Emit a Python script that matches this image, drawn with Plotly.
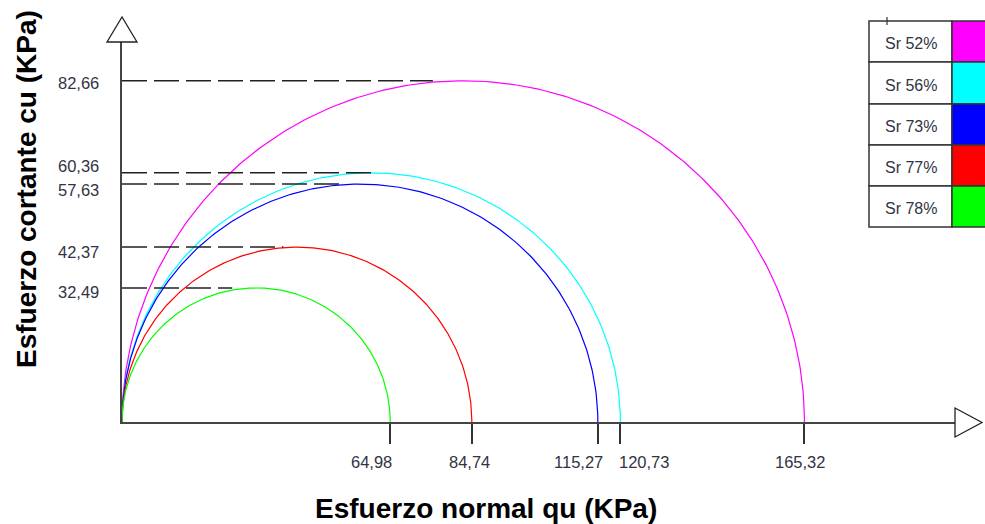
import numpy as np
import plotly.graph_objects as go

# Unconfined compression results (Mohr circles)
sr_labels = ["Sr 52%", "Sr 56%", "Sr 73%", "Sr 77%", "Sr 78%"]
qu_values = [165.32, 120.73, 115.27, 84.74, 64.98]   # normal stress qu (KPa)
cu_values = [82.66, 60.36, 57.63, 42.37, 32.49]      # shear strength cu (KPa)
leader_end = [75.3, 60.4, 53.6, 39.1, 26.7]          # where each cu guide line stops (KPa)
colors = ["#FF00FF", "#00FFFF", "#0000FF", "#FF0000", "#00FF00"]

# label nudges (pixels) so that close values stay readable
qu_label_shift = [-4, 24, -19, -2, -19]
cu_label_shift = [-2, 7, -6, -5, -4]

W, H = 985, 524
ML, MR, MT, MB = 122, 30, 42, 102
PW, PH = W - ML - MR, H - MT - MB
SCALE = 4.128  # pixels per KPa on both axes
FONT = "Liberation Sans, Arial"


def px(x):
    return (x - ML) / PW


def py(y):
    return (H - MB - y) / PH


def fmt(v):
    return f"{v:.2f}".replace(".", ",")


fig = go.Figure()

# Mohr semicircles
for qu, col in zip(qu_values, colors):
    r = qu / 2.0
    t = np.linspace(np.pi, 0, 241)
    fig.add_trace(go.Scatter(
        x=r + r * np.cos(t), y=r * np.sin(t), mode="lines",
        line=dict(color=col, width=1.2), hoverinfo="skip", showlegend=False,
    ))

# dashed guide lines from the shear axis to the top of each circle
for cu, xe in zip(cu_values, leader_end):
    fig.add_trace(go.Scatter(
        x=[0, xe], y=[cu, cu], mode="lines",
        line=dict(color="#222222", width=1.5, dash="25px,7px"),
        hoverinfo="skip", showlegend=False,
    ))

shapes = []
# arrow heads on both axes
shapes.append(dict(type="path", xref="paper", yref="paper",
                   path=f"M {px(107)} {py(42)} L {px(122)} {py(17)} L {px(137)} {py(42)} Z",
                   fillcolor="white", line=dict(color="#222222", width=1.3)))
shapes.append(dict(type="path", xref="paper", yref="paper",
                   path=f"M {px(955)} {py(408)} L {px(982)} {py(422.5)} L {px(955)} {py(437)} Z",
                   fillcolor="white", line=dict(color="#222222", width=1.3)))

annotations = []
tick_font = dict(family=FONT, size=16.5, color="#333344")

# value labels on the normal-stress axis
for qu, dx in zip(qu_values, qu_label_shift):
    annotations.append(dict(text=fmt(qu), xref="x", yref="paper", x=qu, y=py(462),
                            xshift=dx, showarrow=False, xanchor="center", yanchor="middle",
                            font=tick_font))
# value labels on the shear axis
for cu, dy in zip(cu_values, cu_label_shift):
    annotations.append(dict(text=fmt(cu), xref="paper", yref="y", x=px(101), y=cu,
                            yshift=dy, showarrow=False, xanchor="right", yanchor="middle",
                            font=tick_font))

# legend table
lx0, lx1, lx2 = 869, 952, 990
ly = [21, 62, 104, 145, 186, 227]
for i, (lab, col) in enumerate(zip(sr_labels, colors)):
    y0, y1 = ly[i], ly[i + 1]
    shapes.append(dict(type="rect", xref="paper", yref="paper",
                       x0=px(lx0), x1=px(lx1), y0=py(y1), y1=py(y0),
                       fillcolor="white", line=dict(color="#333333", width=1.5)))
    shapes.append(dict(type="rect", xref="paper", yref="paper",
                       x0=px(lx1), x1=px(lx2), y0=py(y1), y1=py(y0),
                       fillcolor=col, line=dict(color="#333333", width=1.5)))
    annotations.append(dict(text=lab, xref="paper", yref="paper",
                            x=px((lx0 + lx1) / 2), y=py((y0 + y1) / 2 + 2),
                            showarrow=False, xanchor="center", yanchor="middle",
                            font=dict(family=FONT, size=16, color="#333344")))
shapes.append(dict(type="line", xref="paper", yref="paper",
                   x0=px(887), x1=px(887), y0=py(17), y1=py(25),
                   line=dict(color="#333333", width=1.2)))

# axis titles
annotations.append(dict(text="<b>Esfuerzo normal qu (KPa)</b>", xref="paper", yref="paper",
                        x=px(486), y=py(508), showarrow=False,
                        xanchor="center", yanchor="middle",
                        font=dict(family=FONT, size=28, color="black")))
annotations.append(dict(text="<b>Esfuerzo cortante cu (KPa)</b>", xref="paper", yref="paper",
                        x=px(26), y=py(189), showarrow=False, textangle=-90,
                        xanchor="center", yanchor="middle",
                        font=dict(family=FONT, size=28, color="black")))

fig.update_layout(
    width=W, height=H,
    margin=dict(l=ML, r=MR, t=MT, b=MB, autoexpand=False),
    paper_bgcolor="white", plot_bgcolor="white",
    showlegend=False,
    shapes=shapes, annotations=annotations,
    xaxis=dict(range=[0, PW / SCALE], showgrid=False, zeroline=False,
               showline=True, linecolor="#444444", linewidth=2,
               tickmode="array", tickvals=qu_values, showticklabels=False,
               ticks="outside", ticklen=20, tickwidth=1.5, tickcolor="#333333",
               fixedrange=True),
    yaxis=dict(range=[0, PH / SCALE], showgrid=False, zeroline=False,
               showline=True, linecolor="#444444", linewidth=2,
               showticklabels=False, ticks="", fixedrange=True),
)

fig.write_html("out.html")
